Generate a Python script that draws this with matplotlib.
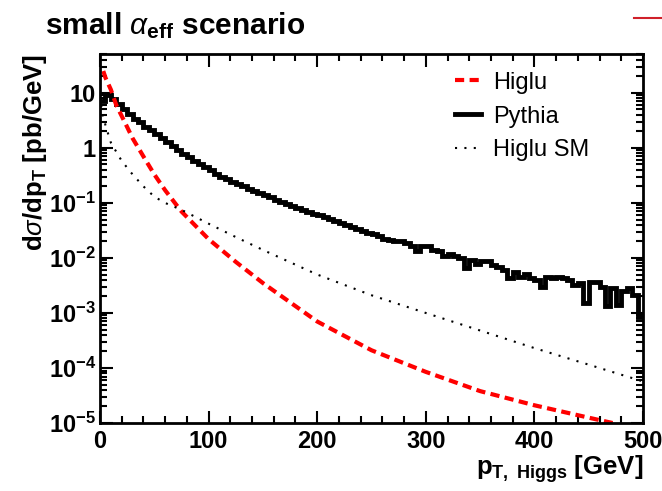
import numpy as np
import matplotlib
matplotlib.use('Agg')
import matplotlib.pyplot as plt
from matplotlib.ticker import LogLocator, MultipleLocator, NullFormatter
from matplotlib.lines import Line2D

plt.rcParams['font.family'] = ['Liberation Sans', 'DejaVu Sans']
plt.rcParams['mathtext.fontset'] = 'custom'
plt.rcParams['mathtext.rm'] = 'Liberation Sans'
plt.rcParams['mathtext.it'] = 'Liberation Sans:italic'
plt.rcParams['mathtext.bf'] = 'Liberation Sans:bold'

# Higlu prediction (red dashed)
higlu_pt = [3, 5, 10, 15, 20, 25, 30, 40, 50, 60, 75, 100, 125, 150,
            200, 250, 300, 350, 400, 450, 472]
higlu_val = [25, 19, 11.5, 6.0, 3.8, 2.4, 1.5, 0.7, 0.33, 0.17, 0.07, 0.022,
             0.0085, 0.0035, 7e-4, 2.1e-4, 8.5e-5, 3.8e-5, 2.1e-5, 1.25e-5, 1e-5]

# Higlu SM prediction (black dotted)
sm_pt = [1, 2.5, 5, 10, 15, 20, 30, 40, 50, 60, 75, 100, 125, 150,
         200, 250, 300, 350, 400, 450, 500]
sm_val = [6.0, 4.0, 2.6, 1.25, 0.85, 0.58, 0.33, 0.2, 0.13, 0.1, 0.075, 0.042,
          0.024, 0.014, 0.005, 0.0021, 0.001, 4.8e-4, 2.3e-4, 1.15e-4, 5.7e-5]

# Pythia histogram, 5 GeV bins from 0 to 500
pythia_edges = np.arange(0, 505, 5)
pythia = [7.1, 9.1, 7.6, 6.2, 5.0, 4.1, 3.4, 2.9, 2.45, 2.1,
          1.78, 1.51, 1.29, 1.10, 0.93, 0.79, 0.68, 0.59, 0.51, 0.45,
          0.39, 0.34, 0.30, 0.27, 0.24, 0.22, 0.20, 0.182, 0.166, 0.151,
          0.138, 0.126, 0.115, 0.105, 0.097, 0.089, 0.081, 0.075, 0.069, 0.064,
          0.060, 0.056, 0.052, 0.047, 0.044, 0.040, 0.037, 0.034, 0.031, 0.029,
          0.027, 0.025, 0.022, 0.0215, 0.020, 0.020, 0.019, 0.0166, 0.0132, 0.0162,
          0.0162, 0.0141, 0.0132, 0.011, 0.0117, 0.011, 0.0098, 0.0065, 0.0091, 0.0079,
          0.0089, 0.0089, 0.0074, 0.0069, 0.006, 0.0043, 0.0056, 0.0046, 0.0052, 0.0043,
          0.004, 0.003, 0.0045, 0.0043, 0.0046, 0.0043, 0.0039, 0.0032, 0.0035, 0.0015,
          0.0037, 0.0037, 0.003, 0.00135, 0.0028, 0.0014, 0.0025, 0.0028, 0.0021, 0.00085]

ytick_vals = [1e-5, 1e-4, 1e-3, 1e-2, 1e-1, 1, 10]
ytick_labels = [r'$\mathbf{10^{-5}}$', r'$\mathbf{10^{-4}}$', r'$\mathbf{10^{-3}}$',
                r'$\mathbf{10^{-2}}$', r'$\mathbf{10^{-1}}$', '1', '10']
xtick_vals = [0, 100, 200, 300, 400, 500]

W, H = 662, 491
fig = plt.figure(figsize=(W / 100, H / 100), dpi=100)
ax = fig.add_axes([100 / W, 1 - 423 / H, 543 / W, 369 / H])

ax.plot(higlu_pt, higlu_val, color='#ff0000', lw=3, dashes=(2.2, 1.3),
        dash_capstyle='butt')
ax.stairs(pythia, pythia_edges, color='black', lw=3.5, baseline=None)
ax.plot(sm_pt, sm_val, color='black', lw=1.5, dashes=(1, 3.5))

ax.set_yscale('log')
ax.set_xlim(0, 500)
ax.set_ylim(1e-5, 51)

ax.set_yticks(ytick_vals)
ax.set_yticklabels(ytick_labels)
ax.yaxis.set_minor_locator(LogLocator(base=10, subs=np.arange(2, 10), numticks=20))
ax.yaxis.set_minor_formatter(NullFormatter())
ax.set_xticks(xtick_vals)
ax.set_xticklabels([str(v) for v in xtick_vals])
ax.xaxis.set_minor_locator(MultipleLocator(20))

ax.tick_params(which='both', direction='in', top=True, right=True, width=1.5,
               labelsize=17)
ax.tick_params(which='major', length=9)
ax.tick_params(which='minor', length=5)
ax.tick_params(axis='y', pad=3)
ax.tick_params(axis='x', pad=5)
for lab in ax.get_xticklabels() + ax.get_yticklabels():
    lab.set_fontweight('bold')
for sp in ax.spines.values():
    sp.set_linewidth(2)

ax.set_ylabel(r'd$\sigma$/dp$_{\mathbf{T}}$ [pb/GeV]', fontsize=18.5,
              fontweight='bold', loc='top')
ax.yaxis.set_label_coords(-0.094, 1.0)
ax.set_xlabel(r'p$_{\mathbf{T,\ Higgs}}$ [GeV]', fontsize=18.5,
              fontweight='bold', loc='right')
ax.xaxis.set_label_coords(1.0, -0.083)

handles = [Line2D([], [], color='#ff0000', lw=3, dashes=(2.2, 1.3)),
           Line2D([], [], color='black', lw=3.5),
           Line2D([], [], color='black', lw=1.5, dashes=(1, 3.5))]
ax.legend(handles, ['Higlu', 'Pythia', 'Higlu SM'], loc='upper left',
          bbox_to_anchor=(0.654, 0.952), frameon=False, fontsize=17,
          borderaxespad=0, borderpad=0, handlelength=1.1, handletextpad=0.5,
          labelspacing=0.5)

fig.text(45 / W, 1 - 34 / H, r'small $\alpha_{\mathbf{eff}}$ scenario',
         fontsize=21.5, fontweight='bold', va='baseline', ha='left')

# clipped red line in the top right corner
fig.add_artist(Line2D([634 / W, 1.0], [1 - 18 / H, 1 - 18 / H],
                      color='#d0202a', lw=1.5, transform=fig.transFigure))

fig.savefig('out.png', dpi=100)
